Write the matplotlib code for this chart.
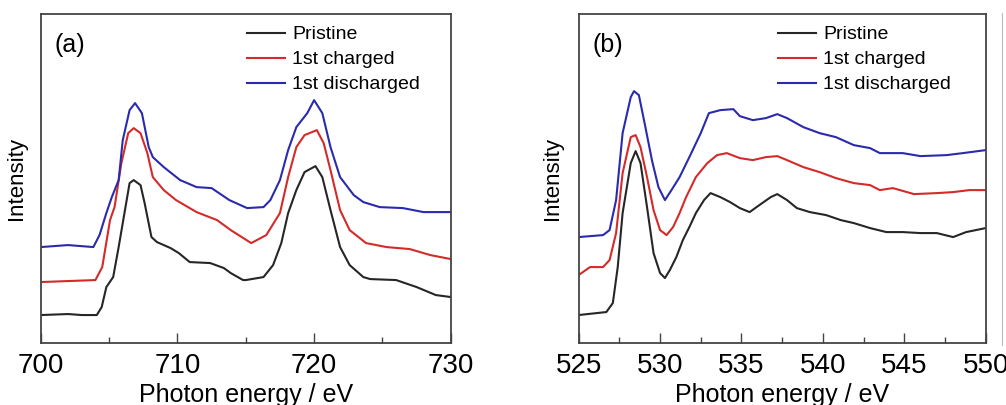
"""
XAS spectra: Mn L-edge (a) and O K-edge (b) for pristine / 1st charged / 1st discharged.
"""
import matplotlib
matplotlib.use("Agg")
import matplotlib.pyplot as plt
from matplotlib.lines import Line2D
from matplotlib.ticker import MultipleLocator

plt.rcParams["font.family"] = ["Liberation Sans", "DejaVu Sans"]

labels = ["Pristine", "1st charged", "1st discharged"]
colors = ["#262626", "#d42a2a", "#2a2aae"]

# ---- panel (a): 700-730 eV (arbitrary units)
a_pristine_x = [700, 702, 703, 704.1, 704.46, 704.8, 705.3, 705.7, 706.2, 706.5, 706.8,
                707.3, 707.6, 708.1, 708.5, 709.5, 710.1, 710.9, 712.4, 713.4, 713.9,
                714.8, 715.0, 716.3, 717.0, 717.6, 718.1, 718.7, 719.3, 720.1, 720.6,
                721.2, 721.9, 722.6, 723.6, 724.1, 726.0, 727.5, 728.9, 730]
a_pristine_y = [28, 29, 28, 28, 36, 56, 66, 96, 136, 160, 163,
                158, 140, 106, 101, 95, 90, 81, 80, 75, 70,
                63, 63, 66, 78, 100, 130, 153, 171, 177, 166,
                133, 96, 78, 66, 64, 63, 56, 48, 46]

a_charged_x = [700, 702, 704.0, 704.5, 705.07, 705.4, 705.9, 706.4, 706.8, 707.3, 707.8,
               708.2, 709.0, 709.9, 711.4, 712.9, 713.9, 715.4, 716.5, 717.5, 718.1,
               718.7, 719.3, 720.2, 720.7, 721.2, 721.9, 722.6, 723.8, 725.3, 727.0,
               728.5, 730]
a_charged_y = [61, 62, 63, 76, 123, 136, 180, 210, 215, 210, 190,
               166, 153, 143, 131, 123, 113, 100, 108, 130, 166,
               196, 208, 213, 200, 173, 133, 113, 100, 96, 94,
               88, 84]

a_discharged_x = [700, 702, 703.85, 704.3, 704.8, 705.2, 705.7, 706.0, 706.5, 706.9, 707.4,
                  707.9, 708.2, 709.0, 710.2, 711.4, 712.5, 713.8, 715.1, 716.3, 716.8,
                  717.5, 718.1, 718.7, 719.5, 720.0, 720.6, 721.2, 721.9, 722.9, 723.6,
                  724.8, 726.5, 728.0, 730]
a_discharged_y = [96, 98, 96, 108, 130, 146, 163, 203, 233, 240, 230,
                  196, 186, 176, 163, 156, 155, 143, 135, 136, 143,
                  163, 193, 216, 230, 243, 230, 196, 166, 148, 141,
                  136, 135, 131, 131]

# ---- panel (b): 525-550 eV
b_pristine_x = [525, 526.7, 527.1, 527.4, 527.7, 528.2, 528.5, 528.8, 529.2, 529.6, 530.0,
                530.3, 530.6, 531.0, 531.4, 531.8, 532.2, 532.7, 533.1, 533.7, 534.3,
                534.9, 535.5, 536.1, 536.8, 537.2, 537.8, 538.4, 539.2, 540.2, 541.1,
                541.9, 542.9, 543.9, 544.9, 546.0, 547.0, 548.0, 548.8, 550]
b_pristine_y = [28, 31, 40, 76, 130, 180, 192, 180, 136, 90, 70,
                65, 73, 86, 103, 116, 130, 143, 150, 146, 141,
                135, 131, 138, 146, 149, 143, 135, 131, 128, 123,
                120, 115, 111, 111, 110, 110, 106, 111, 115]

b_charged_x = [525, 525.7, 526.5, 526.9, 527.3, 527.7, 528.2, 528.5, 528.8, 529.2, 529.6,
               530.0, 530.4, 530.8, 531.2, 531.6, 532.2, 532.9, 533.5, 534.1, 534.9,
               535.7, 536.5, 537.2, 537.8, 538.8, 539.8, 540.8, 541.9, 542.9, 543.5,
               544.3, 545.6, 547.0, 548.0, 549.0, 550]
b_charged_y = [68, 76, 76, 83, 110, 170, 206, 208, 196, 166, 133,
               113, 108, 116, 130, 146, 166, 180, 188, 190, 185,
               183, 186, 187, 183, 176, 171, 165, 160, 158, 153,
               155, 149, 150, 151, 153, 153]

b_discharged_x = [525, 526.5, 526.9, 527.3, 527.7, 528.2, 528.4, 528.7, 529.1, 529.5, 529.9,
                  530.3, 530.7, 531.2, 531.8, 532.5, 533.0, 533.7, 534.5, 534.9, 535.7,
                  536.5, 537.2, 537.8, 538.8, 539.8, 540.8, 541.9, 542.9, 543.5, 544.9,
                  546.0, 547.6, 548.6, 550]
b_discharged_y = [106, 108, 113, 143, 210, 246, 252, 248, 216, 183, 156,
                  143, 153, 166, 186, 210, 230, 233, 234, 227, 223,
                  225, 229, 225, 216, 210, 206, 198, 195, 190, 190,
                  187, 188, 190, 193]

a_ticks = [700, 710, 720, 730]
b_ticks = [525, 530, 535, 540, 545, 550]


def style_axes(ax, xlim, ticks, minor, tag, leg_x, ylab_x):
    ax.set_xlim(*xlim)
    ax.set_ylim(0, 329)
    ax.set_xticks(ticks)
    ax.xaxis.set_minor_locator(MultipleLocator(minor))
    ax.set_yticks([])
    ax.tick_params(axis="x", which="major", direction="in", length=7, width=1,
                   labelsize=20, pad=7, color="#444444")
    ax.tick_params(axis="x", which="minor", direction="in", length=4, width=1,
                   color="#444444")
    for s in ax.spines.values():
        s.set_color("#444444")
        s.set_linewidth(1.3)
    ax.set_xlabel("Photon energy / eV", fontsize=18, labelpad=3)
    ax.set_ylabel("Intensity", fontsize=16)
    ax.yaxis.set_label_coords(ylab_x, 0.5)
    ax.text(0.034, 0.905, tag, transform=ax.transAxes, fontsize=18,
            ha="left", va="center")
    ax.legend(loc="upper left", bbox_to_anchor=(leg_x, 1.0), frameon=False,
              fontsize=14, handlelength=1.95, handletextpad=0.35,
              labelspacing=0.38, borderaxespad=0.2)


fig = plt.figure(figsize=(10.06, 4.05), dpi=100)

ax1 = fig.add_axes([0.0405, 0.153, 0.4076, 0.812])
ax1.plot(a_pristine_x, a_pristine_y, color=colors[0], lw=1.5, label=labels[0])
ax1.plot(a_charged_x, a_charged_y, color=colors[1], lw=1.5, label=labels[1])
ax1.plot(a_discharged_x, a_discharged_y, color=colors[2], lw=1.5, label=labels[2])
style_axes(ax1, (700, 730), a_ticks, 5, "(a)", 0.475, -0.033)

ax2 = fig.add_axes([0.5752, 0.153, 0.4046, 0.812])
ax2.plot(b_pristine_x, b_pristine_y, color=colors[0], lw=1.5, label=labels[0])
ax2.plot(b_charged_x, b_charged_y, color=colors[1], lw=1.5, label=labels[1])
ax2.plot(b_discharged_x, b_discharged_y, color=colors[2], lw=1.5, label=labels[2])
style_axes(ax2, (525, 550), b_ticks, 2.5, "(b)", 0.462, -0.039)

# faint crop edge at the far right of the original figure
fig.add_artist(Line2D([1002 / 1006] * 2, [60 / 405, 392 / 405],
                      color="#bbbbbb", lw=0.8))

fig.savefig("out.png", dpi=100)
